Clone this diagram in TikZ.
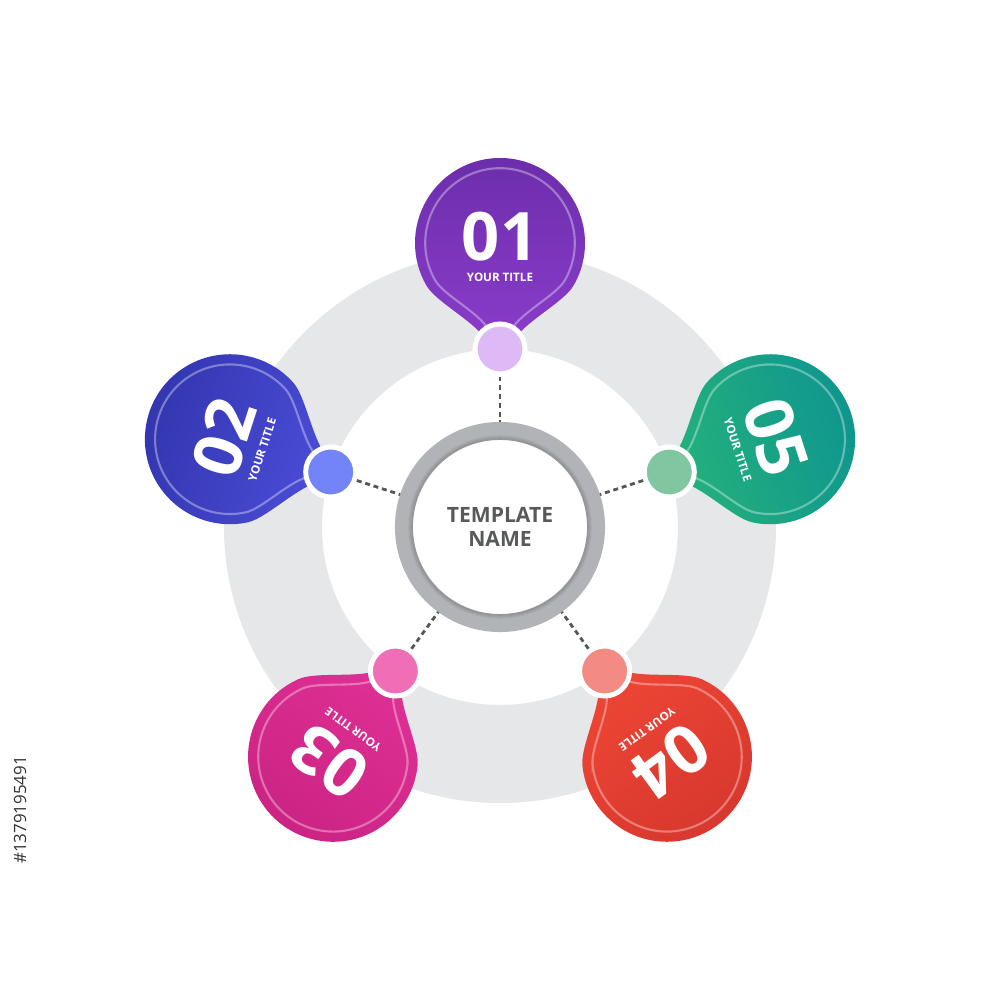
\documentclass[tikz,border=0pt]{standalone}
\usepackage{fontspec}
\setmainfont{Open Sans}
\definecolor{ringgray}{HTML}{E6E7E9}
\definecolor{hubgray}{HTML}{B2B3B6}
\definecolor{dashgray}{HTML}{555555}
\definecolor{textgray}{HTML}{58595B}
\definecolor{o01}{HTML}{6A2DAA}\definecolor{i01}{HTML}{8A3CCA}\definecolor{s01}{HTML}{DDBAF6}
\definecolor{o02}{HTML}{3235AE}\definecolor{i02}{HTML}{4A4CD6}\definecolor{s02}{HTML}{7384F8}
\definecolor{o03}{HTML}{C92382}\definecolor{i03}{HTML}{DE2F94}\definecolor{s03}{HTML}{EF6FB7}
\definecolor{o04}{HTML}{D7372E}\definecolor{i04}{HTML}{EC4535}\definecolor{s04}{HTML}{F38A84}
\definecolor{o05}{HTML}{0E958F}\definecolor{i05}{HTML}{24B17C}\definecolor{s05}{HTML}{7FC6A1}
\begin{document}
\begin{tikzpicture}[x=0.01cm,y=0.01cm,
  dropshape/.style={insert path={(-30:85) arc[start angle=-30,end angle=210,radius=85]
     .. controls (-63.6,-59.8) and (-22,-80) .. (-12,-100) -- (12,-100)
     .. controls (22,-80) and (63.6,-59.8) .. cycle}},
  smallc/.style={circle,minimum size=0.5cm,inner sep=0pt,draw=white,line width=1.42pt},
  hubstyle/.style={circle,minimum size=1.92cm,inner sep=0pt,draw=hubgray,line width=0.18cm,fill=white,
     align=center,text=textgray,font=\fontsize{6}{6.8}\selectfont\bfseries},
  numtext/.style={text=white,inner sep=0pt,font=\fontsize{19}{19}\selectfont\bfseries},
  titletext/.style={text=white,inner sep=0pt,font=\fontsize{3.3}{3.3}\selectfont\bfseries},
  dashline/.style={draw=dashgray,line width=0.8pt,dash pattern=on 1.4pt off 1.1pt}]
\useasboundingbox (-500,-473) rectangle (500,527);
\fill[white] (-500,-473) rectangle (500,527);
% big gray ring
\fill[ringgray,even odd rule] (0,0) circle[radius=276] (0,0) circle[radius=178];
% drops
\foreach \a/\n in {90/01,162/02,234/03,306/04,18/05}{
  \begin{scope}[shift={(\a:284)},rotate=\a-90]
    \path[top color=o\n,bottom color=i\n,shading angle=\a-90,dropshape];
    \draw[white,opacity=.35,line width=0.6pt,scale=0.88,dropshape];
    \node[numtext,rotate=\a-90] (num\n) at (0,6) {\n};
    \node[titletext,rotate=\a-90] (tit\n) at (0,-34) {YOUR TITLE};
  \end{scope}
  \node[smallc,fill=s\n] (c\n) at (\a:178) {};
}
% hub
\node[hubstyle] (hub) at (0,0) {TEMPLATE\\NAME};
\draw[black,opacity=.16,line width=0.45pt] (0,0) circle[radius=88];
\draw[black,opacity=.10,line width=0.45pt] (0,0) circle[radius=89.5];
\draw[black,opacity=.05,line width=0.45pt] (0,0) circle[radius=91];
% connectors
\foreach \n in {01,02,03,04,05}{\draw[dashline] (c\n) -- (hub);}
% stock id
\node[rotate=90,text=black!80,inner sep=0pt,font=\fontsize{4.8}{4.8}\selectfont] (stockid) at (-480,-283) {\#1379195491};
\end{tikzpicture}
\end{document}
